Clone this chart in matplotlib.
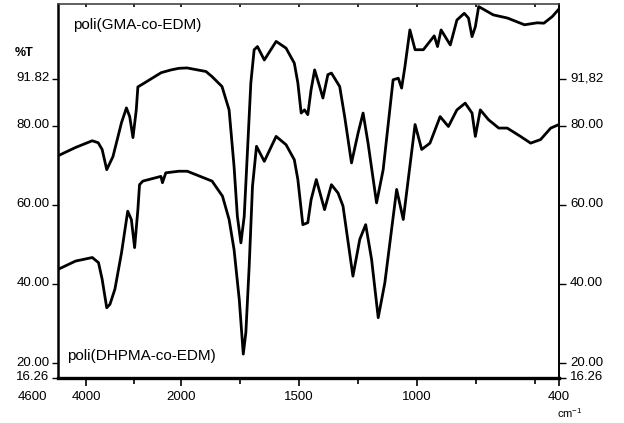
import numpy as np
import matplotlib
matplotlib.use("Agg")
import matplotlib.pyplot as plt
from matplotlib.transforms import ScaledTranslation

plt.rcParams['font.family'] = ['Liberation Sans', 'DejaVu Sans']

# ---- data (wavenumber cm-1, %T) ----
gma_wn = [4600, 4229, 3875, 3750, 3666, 3569, 3437, 3256, 3152, 3083, 3014, 2944, 2910,
          2771, 2417, 2208, 2042, 1974, 1894, 1868, 1826, 1796, 1775, 1761, 1746, 1732,
          1718, 1704, 1690, 1676, 1647, 1597, 1555, 1520, 1505, 1491, 1477, 1463, 1449,
          1434, 1413, 1399, 1378, 1363, 1328, 1307, 1278, 1250, 1229, 1208, 1172, 1144,
          1102, 1080, 1066, 1052, 1031, 1009, 974, 928, 914, 899, 860, 832, 801, 783, 768,
          754, 740, 678, 618, 546, 492, 464, 428, 400]
gma_t = [72.4, 74.5, 76.2, 75.7, 74.0, 68.9, 72.2, 80.8, 84.5, 82.3, 77.0, 84.0, 89.8,
         90.8, 93.4, 94.1, 94.5, 94.6, 93.7, 92.4, 89.9, 84.0, 69.7, 57.1, 50.4, 57.1,
         73.9, 90.8, 99.2, 100.0, 96.6, 101.3, 99.6, 95.8, 90.8, 83.2, 84.0, 82.8, 89.1,
         94.1, 89.9, 87.0, 92.9, 93.3, 89.9, 82.3, 70.6, 78.2, 83.2, 75.6, 60.5, 68.9,
         91.6, 92.0, 89.5, 94.9, 104.2, 99.2, 99.2, 102.7, 100.0, 104.2, 100.4, 106.7,
         108.4, 107.2, 102.5, 105.0, 110.1, 108.0, 107.2, 105.5, 106.0, 105.9, 107.6, 109.5]

dhpma_wn = [4600, 4229, 3875, 3743, 3666, 3569, 3500, 3396, 3256, 3125, 3048, 2979, 2910,
            2875, 2806, 2423, 2390, 2319, 2042, 1973, 1868, 1824, 1796, 1775, 1753, 1736,
            1725, 1711, 1697, 1680, 1647, 1597, 1555, 1520, 1505, 1484, 1463, 1449, 1427,
            1392, 1363, 1335, 1314, 1272, 1243, 1218, 1193, 1165, 1137, 1087, 1059, 1038,
            1009, 981, 946, 903, 868, 832, 797, 768, 754, 733, 698, 655, 619, 563, 520,
            478, 435, 400]
dhpma_t = [43.7, 45.8, 46.7, 45.4, 41.2, 34.0, 34.9, 38.7, 47.9, 58.4, 56.3, 49.2, 58.8,
           65.1, 66.0, 67.2, 65.6, 68.1, 68.5, 68.5, 66.0, 62.2, 56.3, 48.7, 36.1, 22.3,
           27.8, 44.5, 64.7, 74.8, 71.0, 77.3, 75.2, 71.4, 66.4, 55.0, 55.5, 61.3, 66.4,
           58.8, 65.1, 63.0, 59.7, 42.0, 51.3, 55.0, 46.2, 31.5, 40.3, 63.9, 56.3, 66.4,
           80.3, 74.0, 75.6, 82.3, 79.8, 84.0, 85.7, 83.2, 77.3, 84.0, 81.5, 79.4, 79.4,
           77.3, 75.6, 76.5, 79.4, 80.3]

x_major = [4000, 2000, 1500, 1000, 400]
x_major_labels = ['4000', '2000', '1500', '1000', '400']
x_minor = [3000, 1750, 1250, 750, 500]
y_ticks = [91.82, 80.00, 60.00, 40.00, 20.00, 16.26]
y_left_labels = ['91.82', '80.00', '60.00', '40.00', '20.00', '16.26']
y_right_labels = ['91,82', '80.00', '60.00', '40.00', '20.00', '16.26']
x_range = (4600, 400)
y_range = (16.26, 110.75)

# ---- piecewise-linear wavenumber scale (compressed above 2000) ----
R = 0.2
def fwd(x):
    x = np.asarray(x, dtype=float)
    return np.where(x <= 2000, x, 2000 + (x - 2000) * R)
def inv(u):
    u = np.asarray(u, dtype=float)
    return np.where(u <= 2000, u, 2000 + (u - 2000) / R)

W, H = 624, 423
fig = plt.figure(figsize=(W / 100, H / 100), dpi=100)
ax = fig.add_axes([58 / W, 45 / H, 501 / W, 374 / H])
ax.set_xscale('function', functions=(fwd, inv))
ax.set_xlim(*x_range)
ax.set_ylim(*y_range)

ax.plot(gma_wn, gma_t, color='black', lw=2.0, solid_joinstyle='round',
        solid_capstyle='round')
ax.plot(dhpma_wn, dhpma_t, color='black', lw=2.0, solid_joinstyle='round',
        solid_capstyle='round')

# spines
ax.spines['bottom'].set_linewidth(2.4)
ax.spines['left'].set_linewidth(1.8)
ax.spines['right'].set_linewidth(1.4)
ax.spines['top'].set_linewidth(1.2)
ax.spines['top'].set_color('#444444')

# x ticks
ax.set_xticks(x_major)
ax.set_xticklabels(x_major_labels)
ax.set_xticks(x_minor, minor=True)
ax.tick_params(axis='x', which='major', direction='out', length=6, width=1.2,
               labelsize=9.5, pad=3, top=True)
ax.tick_params(axis='x', which='minor', direction='out', length=4, width=1.2, top=True)
for t in ax.xaxis.get_major_ticks() + ax.xaxis.get_minor_ticks():
    t.tick2line.set_markersize(2.5)
    t.tick2line.set_marker(3)

# y ticks left
ax.set_yticks(y_ticks)
ax.set_yticklabels(y_left_labels)
ax.tick_params(axis='y', which='major', direction='out', length=4, width=1.0,
               labelsize=9.5, pad=2)
off = ScaledTranslation(0, 1.5 / 72, fig.dpi_scale_trans)
for lab in ax.get_yticklabels():
    lab.set_transform(lab.get_transform() + off)

# right axis
axr = ax.twinx()
axr.set_ylim(*y_range)
axr.set_yticks(y_ticks)
axr.set_yticklabels(y_right_labels)
axr.tick_params(axis='y', direction='out', length=5, width=1.0, labelsize=9.5, pad=3)
for lab in axr.get_yticklabels():
    lab.set_transform(lab.get_transform() + off)
for s in axr.spines.values():
    s.set_visible(False)

# texts
fig.text(15 / W, 1 - 53 / H, '%T', fontsize=9, fontweight='bold', va='center', ha='left')
fig.text(32 / W, 1 - 397 / H, '4600', fontsize=9.5, va='center', ha='center')
fig.text(570 / W, 1 - 413 / H, 'cm$^{\\mathregular{-1}}$', fontsize=8, va='center', ha='center')
ax.text(0.03, 0.945, 'poli(GMA-co-EDM)', transform=ax.transAxes, fontsize=11,
        va='center', ha='left')
ax.text(0.018, 0.06, 'poli(DHPMA-co-EDM)', transform=ax.transAxes, fontsize=11,
        va='center', ha='left')

fig.savefig('out.png', dpi=100)
